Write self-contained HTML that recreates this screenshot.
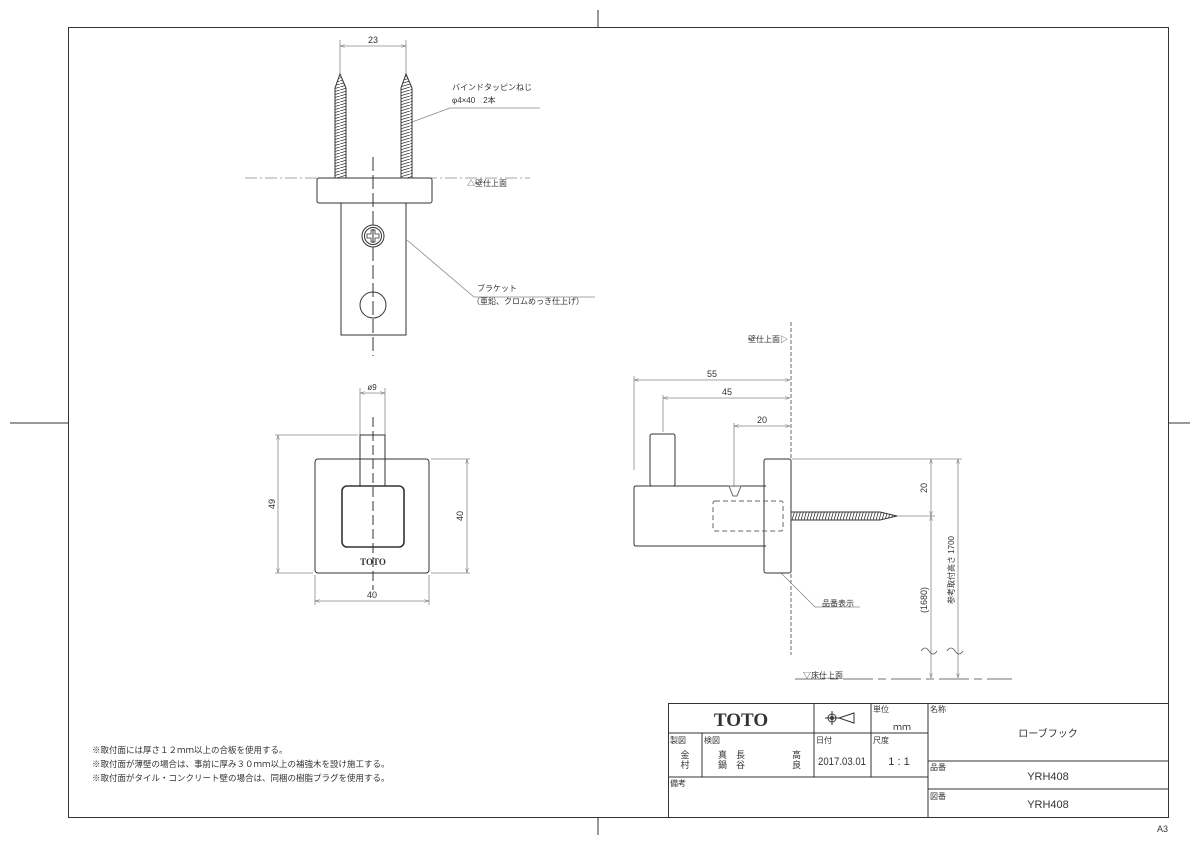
<!DOCTYPE html>
<html><head><meta charset="utf-8"><style>
html,body{margin:0;padding:0;background:#fff}
svg{display:block}
text{font-family:"Liberation Sans","Noto Sans CJK JP",sans-serif;fill:#333}
text.serif{font-family:"Liberation Serif","DejaVu Serif",serif}
</style></head><body>
<svg width="1200" height="848" viewBox="0 0 1200 848" xmlns="http://www.w3.org/2000/svg">
<defs>
<marker id="a" viewBox="0 0 10 10" refX="10" refY="5" markerWidth="8" markerHeight="6" orient="auto-start-reverse"><path d="M0,2 L10,5 L0,8" fill="none" stroke="#777" stroke-width="1"/></marker>
<pattern id="thr" width="10" height="3" patternUnits="userSpaceOnUse"><path d="M0,3 L10,0" stroke="#333" stroke-width="0.8"/></pattern>
<pattern id="thrv" width="3" height="10" patternUnits="userSpaceOnUse"><path d="M3,0 L0,10" stroke="#333" stroke-width="0.8"/></pattern>
</defs>
<g fill="none" stroke="#333" stroke-width="1">
<rect x="68.5" y="27.5" width="1100" height="790"/>
<line x1="598" y1="10" x2="598" y2="27"/><line x1="598" y1="817" x2="598" y2="835"/>
<line x1="10" y1="423" x2="68" y2="423"/><line x1="1168" y1="423" x2="1190" y2="423"/>
</g>
<text x="1157" y="832" font-size="9">A3</text>

<!-- top view -->
<g stroke="#888" stroke-width="0.8" fill="none">
<line x1="340" y1="40" x2="340" y2="75"/><line x1="406" y1="40" x2="406" y2="75"/>
<line x1="340" y1="46" x2="406" y2="46" marker-start="url(#a)" marker-end="url(#a)"/>
<line x1="245" y1="178" x2="530" y2="178" stroke-dasharray="12 3 2 3"/>
<polyline points="412,122 450,108 540,108"/>
<polyline points="407,240 474,297 595,297"/>
</g>
<text x="373" y="43" font-size="9" text-anchor="middle" fill="#777">23</text>
<text x="467" y="186" font-size="8" fill="#777">△壁仕上面</text>
<text x="452" y="90" font-size="8">バインドタッピンねじ</text>
<text x="452" y="103" font-size="8">φ4×40　2本</text>
<text x="477" y="291" font-size="8">ブラケット</text>
<text x="472" y="304" font-size="8">（亜鉛、クロムめっき仕上げ）</text>
<g stroke="#333" stroke-width="1">
<path d="M340,74 L335,88 L335,178 L346,178 L346,88 Z" fill="url(#thr)"/>
<path d="M406,74 L401,88 L401,178 L412,178 L412,88 Z" fill="url(#thr)"/>
<rect x="317" y="178" width="115" height="25" rx="2" fill="none"/>
<path d="M341,203 L341,335 L406,335 L406,203" fill="none"/>
<circle cx="373" cy="236" r="11" fill="none"/><circle cx="373" cy="236" r="8.5" fill="none"/>
<path d="M371,230 h4 v4 h4 v4 h-4 v4 h-4 v-4 h-4 v-4 h4 z" fill="none" stroke-width="0.8"/>
<circle cx="373" cy="305" r="13" fill="none"/>
<line x1="373" y1="157" x2="373" y2="356" stroke-dasharray="14 4"/>
</g>

<!-- front view -->
<g stroke="#888" stroke-width="0.8" fill="none">
<line x1="360" y1="388" x2="360" y2="435"/><line x1="385" y1="388" x2="385" y2="435"/>
<line x1="360" y1="393" x2="385" y2="393" marker-start="url(#a)" marker-end="url(#a)"/>
<line x1="275" y1="435" x2="358" y2="435"/><line x1="275" y1="573" x2="313" y2="573"/>
<line x1="278" y1="435" x2="278" y2="573" marker-start="url(#a)" marker-end="url(#a)"/>
<line x1="431" y1="459" x2="470" y2="459"/><line x1="431" y1="573" x2="470" y2="573"/>
<line x1="467" y1="459" x2="467" y2="573" marker-start="url(#a)" marker-end="url(#a)"/>
<line x1="315" y1="575" x2="315" y2="605"/><line x1="429" y1="575" x2="429" y2="605"/>
<line x1="315" y1="601" x2="429" y2="601" marker-start="url(#a)" marker-end="url(#a)"/>
</g>
<text x="372" y="390" font-size="8" text-anchor="middle" fill="#777">ø9</text>
<text x="275" y="504" font-size="9" text-anchor="middle" fill="#777" transform="rotate(-90 275 504)">49</text>
<text x="463" y="516" font-size="9" text-anchor="middle" fill="#777" transform="rotate(-90 463 516)">40</text>
<text x="372" y="598" font-size="9" text-anchor="middle" fill="#777">40</text>
<g stroke="#333" stroke-width="1" fill="none">
<rect x="315" y="459" width="114" height="114" rx="3"/>
<path d="M360,486 L360,435 L385,435 L385,486"/>
<rect x="342" y="486" width="62" height="61" rx="5" stroke-width="1.6"/>
<line x1="373" y1="417" x2="373" y2="590" stroke-dasharray="10 4"/>
</g>
<text class="serif" x="373" y="565" font-size="9" font-weight="bold" text-anchor="middle">TOTO</text>

<!-- side view -->
<g stroke="#888" stroke-width="0.8" fill="none">
<line x1="791" y1="322" x2="791" y2="655" stroke="#444" stroke-dasharray="4 2"/>
<line x1="634" y1="376" x2="634" y2="470"/>
<line x1="634" y1="380" x2="790" y2="380" marker-start="url(#a)" marker-end="url(#a)"/>
<line x1="663" y1="395" x2="663" y2="432"/>
<line x1="663" y1="398" x2="790" y2="398" marker-start="url(#a)" marker-end="url(#a)"/>
<line x1="734" y1="423" x2="734" y2="487"/>
<line x1="734" y1="426" x2="790" y2="426" marker-start="url(#a)" marker-end="url(#a)"/>
<line x1="792" y1="459" x2="962" y2="459"/><line x1="897" y1="516" x2="935" y2="516"/>
<line x1="931" y1="459" x2="931" y2="516" marker-start="url(#a)" marker-end="url(#a)"/>
<line x1="931" y1="516" x2="931" y2="678" marker-start="url(#a)" marker-end="url(#a)"/>
<line x1="958" y1="459" x2="958" y2="678" marker-start="url(#a)" marker-end="url(#a)"/>
<line x1="795" y1="679" x2="1012" y2="679" stroke="#444" stroke-dasharray="30 5 8 5"/>
<polyline points="781,573 815,607 860,607"/>
<path d="M921,651 q4,-6 8,0 q4,6 8,0 M947,651 q4,-6 8,0 q4,6 8,0" stroke="#555"/>
</g>
<text x="748" y="342" font-size="8" fill="#777">壁仕上面▷</text>
<text x="712" y="377" font-size="9" text-anchor="middle" fill="#777">55</text>
<text x="727" y="395" font-size="9" text-anchor="middle" fill="#777">45</text>
<text x="762" y="423" font-size="9" text-anchor="middle" fill="#777">20</text>
<text x="927" y="488" font-size="9" text-anchor="middle" fill="#777" transform="rotate(-90 927 488)">20</text>
<text x="927" y="600" font-size="9" text-anchor="middle" fill="#777" transform="rotate(-90 927 600)">(1680)</text>
<text x="954" y="570" font-size="8" text-anchor="middle" fill="#777" transform="rotate(-90 954 570)">参考取付高さ 1700</text>
<text x="803" y="678" font-size="8" fill="#777">▽床仕上面</text>
<text x="822" y="606" font-size="8">品番表示</text>
<g stroke="#333" stroke-width="1" fill="none">
<rect x="650" y="434" width="25" height="52" rx="2"/>
<path d="M766,486 L636,486 Q634,486 634,488 L634,544 Q634,546 636,546 L766,546"/>
<rect x="764" y="459" width="27" height="114" rx="2"/>
<rect x="713" y="501" width="70" height="30" rx="2" stroke-dasharray="5 3" stroke="#666"/>
<path d="M729,486 L741,486 L737,496 L733,496 Z" stroke="#666"/>
<path d="M791,512 L880,512 L897,516 L880,520 L791,520 Z" fill="url(#thrv)"/>
</g>

<!-- notes -->
<text x="92" y="753" font-size="8.5">※取付面には厚さ１２ｍｍ以上の合板を使用する。</text>
<text x="92" y="767" font-size="8.5">※取付面が薄壁の場合は、事前に厚み３０ｍｍ以上の補強木を設け施工する。</text>
<text x="92" y="781" font-size="8.5">※取付面がタイル・コンクリート壁の場合は、同梱の樹脂プラグを使用する。</text>

<!-- title block -->
<g stroke="#333" stroke-width="1" fill="none">
<rect x="668.5" y="703.5" width="500" height="114"/>
<line x1="928" y1="703" x2="928" y2="817"/>
<line x1="668" y1="733" x2="928" y2="733"/>
<line x1="668" y1="777" x2="928" y2="777"/>
<line x1="928" y1="761" x2="1168" y2="761"/>
<line x1="928" y1="789" x2="1168" y2="789"/>
<line x1="814" y1="703" x2="814" y2="777"/>
<line x1="871" y1="703" x2="871" y2="777"/>
<line x1="702" y1="733" x2="702" y2="777"/>
<circle cx="832" cy="718" r="4"/><circle cx="832" cy="718" r="1.5"/>
<line x1="825" y1="718" x2="839" y2="718"/><line x1="832" y1="711" x2="832" y2="725"/>
<path d="M839,718 L848,715 L854,713 L854,723 L848,721 Z"/>
</g>
<text class="serif" x="741" y="726" font-size="19" font-weight="bold" text-anchor="middle" fill="#111">TOTO</text>
<g font-size="8">
<text x="873" y="712">単位</text><text x="893" y="730" font-size="9">ｍｍ</text>
<text x="930" y="712">名称</text>
<text x="1048" y="737" font-size="10" text-anchor="middle">ローブフック</text>
<text x="670" y="743">製図</text><text x="704" y="743">検図</text>
<text x="816" y="743">日付</text><text x="873" y="743">尺度</text>
<text x="670" y="786">備考</text>
<text x="930" y="770">品番</text><text x="930" y="799">図番</text>
</g>
<g font-size="9">
<text x="685" y="758" text-anchor="middle">金</text><text x="685" y="768" text-anchor="middle">村</text>
<text x="718" y="758">真</text><text x="718" y="768">鍋</text>
<text x="736" y="758">長</text><text x="736" y="768">谷</text>
<text x="792" y="758">高</text><text x="792" y="768">良</text>
</g>
<text x="842" y="765" font-size="11" text-anchor="middle" textLength="48" lengthAdjust="spacingAndGlyphs">2017.03.01</text>
<text x="899" y="765" font-size="11" text-anchor="middle">1 : 1</text>
<text x="1048" y="780" font-size="11" text-anchor="middle">YRH408</text>
<text x="1048" y="808" font-size="11" text-anchor="middle">YRH408</text>
</svg>
</body></html>
